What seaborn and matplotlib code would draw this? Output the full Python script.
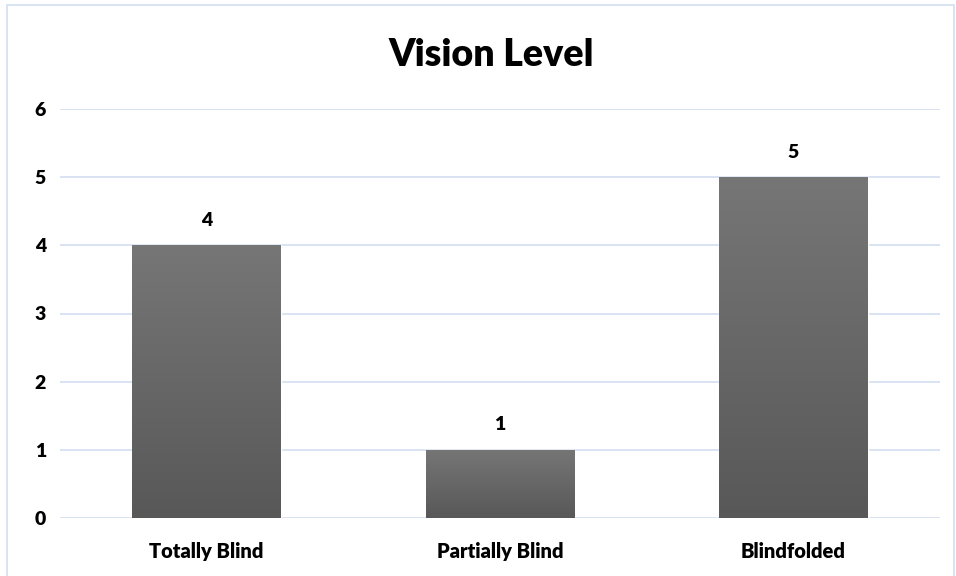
import numpy as np
import pandas as pd
import seaborn as sns
from matplotlib import pyplot as plt
from matplotlib.patches import Rectangle

categories = ['Totally Blind', 'Partially Blind', 'Blindfolded']
counts = [4, 1, 5]
yticks = [0, 1, 2, 3, 4, 5, 6]

data = pd.DataFrame({'level': categories, 'count': counts})

sns.set_style('white')
plt.rcParams['font.family'] = ['Lato', 'DejaVu Sans']

fig = plt.figure(figsize=(9.56, 5.76), dpi=100)
ax = fig.add_axes([60 / 956, 58 / 576, 880 / 956, 409 / 576])

sns.barplot(data=data, x='level', y='count', color='#666666', width=0.507,
            saturation=1, ax=ax, zorder=3)

# vertical grey gradient inside each bar (lighter at top)
grad = np.linspace(0, 1, 256).reshape(-1, 1)
cmap = plt.matplotlib.colors.LinearSegmentedColormap.from_list('g', ['#585858', '#767676'])
for bar in ax.patches:
    x0, y0 = bar.get_x(), bar.get_y()
    w, h = bar.get_width(), bar.get_height()
    im = ax.imshow(grad, extent=[x0, x0 + w, y0, y0 + h], origin='lower',
                   cmap=cmap, aspect='auto', zorder=4)
    im.set_clip_path(bar)
    ax.text(x0 + w / 2, y0 + h + 0.24, f'{int(h)}', ha='center', va='bottom',
            fontsize=14, fontweight='heavy', color='black', zorder=5)

ax.set_xlim(-0.5, 2.5)
ax.set_ylim(0, 6)
ax.set_yticks(yticks)
ax.yaxis.grid(True, color='#D6E1F1', linewidth=1.3, zorder=0)
ax.xaxis.grid(False)
for s in ax.spines.values():
    s.set_visible(False)
ax.tick_params(axis='both', length=0, labelsize=14, labelcolor='black')
ax.tick_params(axis='x', labelsize=14.5, pad=17)
ax.tick_params(axis='y', pad=10)
for lab in ax.get_xticklabels() + ax.get_yticklabels():
    lab.set_fontweight('heavy')
ax.set_xlabel('')
ax.set_ylabel('')

fig.text(491 / 956, 1 - 55 / 576, 'Vision Level', ha='center', va='center',
         fontsize=27, fontweight='heavy', color='black')

fig.patches.append(Rectangle((7 / 956, -0.02), 947 / 956, 1 - 5 / 576 + 0.02,
                             transform=fig.transFigure, fill=False,
                             edgecolor='#D6E1F1', linewidth=1.3))

fig.savefig('out.png', dpi=100)
